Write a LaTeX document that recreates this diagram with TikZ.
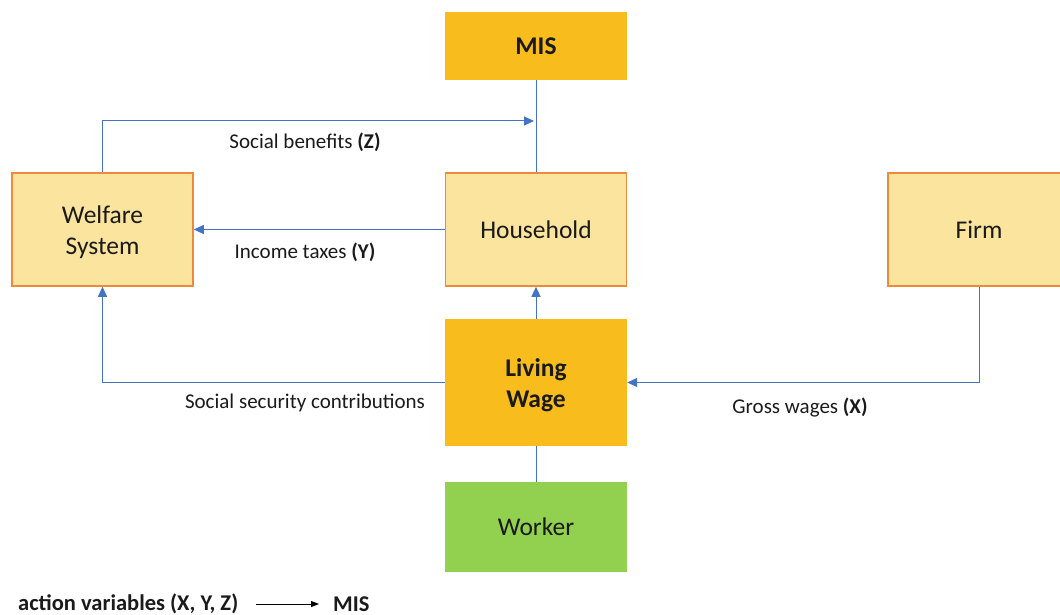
\documentclass[tikz,border=0pt]{standalone}
\usepackage{fontspec}
\setmainfont{Carlito}
\usetikzlibrary{arrows.meta}
\definecolor{lightbox}{HTML}{FBE49D}
\definecolor{boxborder}{HTML}{EE8A3C}
\definecolor{gold}{HTML}{F8BD1C}
\definecolor{greenbox}{HTML}{92D050}
\definecolor{conn}{HTML}{4472C4}
\definecolor{txt}{HTML}{1A1A1A}
\newcommand{\lowerln}[2]{\raisebox{-#1}[\height][\depth]{#2}}
\tikzset{
  box/.style={draw=boxborder, line width=1.6pt, fill=lightbox, minimum width=181pt, minimum height=113pt, align=center, font=\fontsize{25.5}{31}\selectfont, text=txt, inner sep=0pt},
  goldbox/.style={fill=gold, minimum width=182pt, align=center, font=\bfseries\fontsize{25.5}{31}\selectfont, text=txt, inner sep=0pt},
  greenbox/.style={fill=greenbox, minimum width=182pt, minimum height=90pt, align=center, font=\fontsize{25.5}{31}\selectfont, text=txt, inner sep=0pt},
  line/.style={draw=conn, line width=1pt},
  arr/.style={line, -{Triangle[length=10pt,width=9pt]}, color=conn},
  lbl/.style={font=\fontsize{21}{25}\selectfont, text=txt, inner sep=0pt},
  legend/.style={font=\bfseries\fontsize{22.5}{26}\selectfont, text=txt, inner sep=0pt}
}
\begin{document}
\begin{tikzpicture}[x=1pt,y=-1pt]
\useasboundingbox (0,0) rectangle (1060,615);
\node[goldbox, minimum height=68pt] (mis) at (536,46) {MIS};
\node[box] (welfare) at (102.5,229.5) {\lowerln{2.5pt}{Welfare}\\\lowerln{2.5pt}{System}};
\node[box] (household) at (536,229.5) {Household};
\begin{scope}
\clip (0,0) rectangle (1060,615);
\node[box, minimum width=182pt] (firm) at (979,229.5) {Firm};
\end{scope}
\node[goldbox, minimum height=127pt] (lw) at (536,382.5) {\lowerln{3pt}{Living}\\\lowerln{3pt}{Wage}};
\node[greenbox] (worker) at (536,527) {Worker};

\coordinate (sb) at (534,121);
\draw[line] (mis.south) -- (household.north);
\draw[arr] (welfare.north) |- (sb);
\draw[arr] (household.west) -- (welfare.east);
\draw[arr] (lw.north) -- (household.south);
\draw[arr] (lw.west) -| (welfare.south);
\draw[arr] (firm.south) |- (lw.east);
\draw[line] (worker.north) -- (lw.south);

\node[lbl] (lsb) at (305,142) {Social benefits \textbf{(Z)}};
\node[lbl] (lit) at (305,252) {Income taxes \textbf{(Y)}};
\node[lbl] (lssc) at (305,403) {Social security contributions};
\node[lbl] (lgw) at (800,408) {Gross wages \textbf{(X)}};

\node[legend, anchor=west] (leg) at (18,604) {action variables (X, Y, Z)};
\node[legend, anchor=west] (legmis) at (333,604) {MIS};
\draw[black, line width=1pt, -{Triangle[length=8pt,width=6pt]}] ([xshift=18pt]leg.east) -- ([xshift=-14pt]legmis.west);
\end{tikzpicture}
\end{document}
